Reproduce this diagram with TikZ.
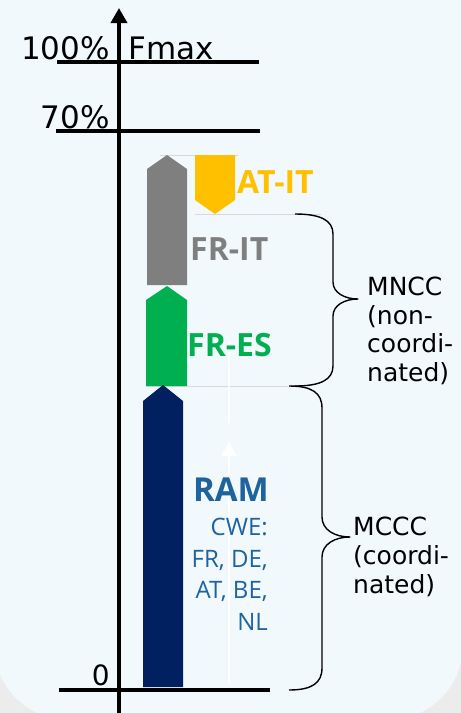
\documentclass[tikz,border=0pt]{standalone}
\usepackage{fontspec}
\setmainfont{DejaVu Sans}
\newfontfamily\lblfont{Open Sans}
\usetikzlibrary{arrows.meta}
\definecolor{bgblue}{RGB}{242,249,253}
\definecolor{bgout}{RGB}{236,236,236}
\definecolor{navy}{RGB}{0,32,96}
\definecolor{grn}{RGB}{0,176,80}
\definecolor{gry}{RGB}{127,127,127}
\definecolor{ylw}{RGB}{255,192,0}
\definecolor{txtblue}{RGB}{30,98,158}
\definecolor{guidegray}{RGB}{217,217,217}
\tikzset{
  axisline/.style={line width=3.5pt, black},
  level/.style={line width=4pt, black},
  guide/.style={line width=1pt, draw=guidegray},
  brace/.style={line width=1.4pt, black, line join=round},
  axlabel/.style={inner sep=0pt, font=\fontsize{31}{31}\selectfont},
  bold/.style={inner sep=0pt, font=\lblfont\bfseries\fontsize{32}{32}\selectfont},
  cwe/.style={inner sep=0pt, anchor=base east, text=txtblue, font=\lblfont\fontsize{24}{24}\selectfont},
  side/.style={inner sep=0pt, anchor=base west, font=\fontsize{25}{25}\selectfont}
}
\begin{document}
\begin{tikzpicture}[x=1pt,y=-1pt]
\useasboundingbox (0,0) rectangle (461,713);
% background
\fill[bgout] (0,0) rectangle (461,713);
\fill[bgblue, rounded corners=75pt] (-6,-120) rectangle (463,720);
% level lines
\draw[level] (57,62) -- (259,62);
\draw[level] (56,131) -- (260,131);
\draw[level] (59,690) -- (270,690);
% thin guide lines
\draw[guide] (160,155) -- (238,155);
\draw[guide] (195,214) -- (321,214);
\draw[guide] (146,386) -- (288,386);
% bars
\fill[gry] (147,285) -- (147,169) -- (167,155) -- (187,169) -- (187,285) -- cycle;
\fill[ylw] (195,155) -- (235,155) -- (235,200) -- (215,214) -- (195,200) -- cycle;
\fill[grn] (146,386) -- (146,300) -- (167,286) -- (187,300) -- (187,386) -- cycle;
\fill[navy] (143,687) -- (143,401) -- (163,385) -- (183,401) -- (183,687) -- cycle;
% white arrow
\coordinate (wa0) at (229,683);
\coordinate (wa1) at (229,442);
\coordinate (wb0) at (229,423);
\coordinate (wb1) at (229,342);
\draw[white, line width=2pt, -{Triangle[length=14pt,width=15pt]}] (wa0) -- (wa1);
\draw[white, line width=2pt] (wb0) -- (wb1);
% axis
\coordinate (ax0) at (119,713);
\coordinate (ax1) at (119,8);
\draw[axisline, -{Triangle[length=15pt,width=16pt]}] (ax0) -- (ax1);
% axis labels
\node[axlabel, anchor=base east] (p100) at (110,59) {100\%};
\node[axlabel, anchor=base west] (fmax) at (128,59) {Fmax};
\node[axlabel, anchor=base east] (p70) at (110,128) {70\%};
\node[axlabel, anchor=base east, font=\fontsize{28}{28}\selectfont] (p0) at (110,685) {0};
% bar labels
\node[bold, anchor=base west, text=ylw] (atit) at (237,193) {AT-IT};
\node[bold, anchor=base west, text=gry] (frit) at (190,260) {FR-IT};
\node[bold, anchor=base west, text=grn] (fres) at (187,356) {FR-ES};
\node[bold, anchor=base east, text=txtblue, font=\lblfont\bfseries\fontsize{33}{33}\selectfont] (ram) at (269,501) {RAM};
\node[cwe] (cwe1) at (268,535) {CWE:};
\node[cwe] (cwe2) at (268,567) {FR, DE,};
\node[cwe] (cwe3) at (268,598) {AT, BE,};
\node[cwe] (cwe4) at (268,630) {NL};
% braces
\draw[brace] (295,214) .. controls (320,214) and (333,220) .. (333,234)
  -- (333,282) .. controls (333,293) and (345,299) .. (358,299)
  .. controls (345,299) and (333,305) .. (333,316)
  -- (333,366) .. controls (333,380) and (320,386) .. (295,386);
\draw[brace] (289,386) .. controls (312,386) and (322,393) .. (322,408)
  -- (322,517) .. controls (322,530) and (335,537) .. (350,537)
  .. controls (335,537) and (322,544) .. (322,557)
  -- (322,668) .. controls (322,683) and (312,690) .. (289,690);
% side labels
\node[side] (mn1) at (367,295) {MNCC};
\node[side] (mn2) at (367,324) {(non-};
\node[side] (mn3) at (367,352) {coordi-};
\node[side] (mn4) at (367,381) {nated)};
\node[side] (mc1) at (353,535) {MCCC};
\node[side] (mc2) at (353,564) {(coordi-};
\node[side] (mc3) at (353,593) {nated)};
\end{tikzpicture}
\end{document}
